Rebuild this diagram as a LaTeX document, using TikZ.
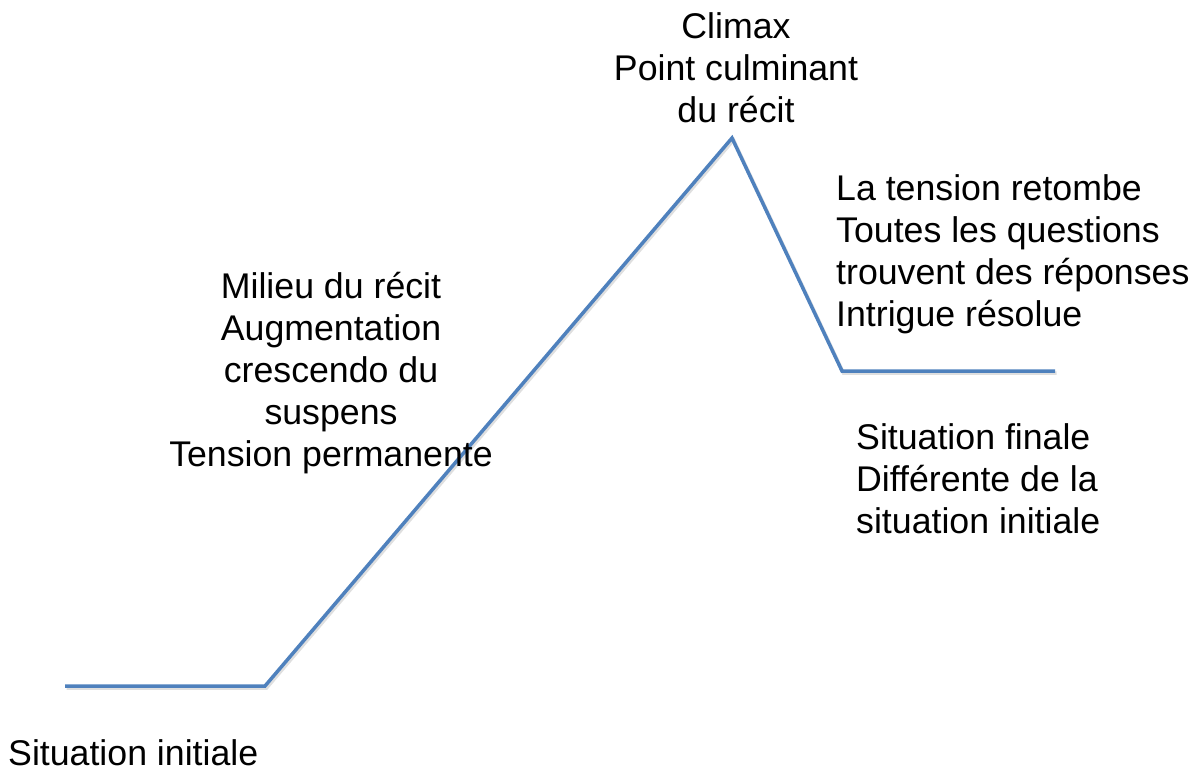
\documentclass[tikz,border=0pt]{standalone}
\usepackage{fontspec}
\setmainfont{Liberation Sans}
\definecolor{linecol}{RGB}{79,129,189}
\begin{document}
\begin{tikzpicture}[x=1pt,y=-1pt,
  lbl/.style={inner sep=0pt,font=\fontsize{35.7}{42}\selectfont},
  arc/.style={draw=linecol,line width=3.5pt,line join=miter},
  shade/.style={draw=black!25,line width=3.5pt,opacity=0.5}]
\useasboundingbox (0,0) rectangle (1196,780);
\coordinate (p0) at (65,686);
\coordinate (p1) at (265,686);
\coordinate (p2) at (732,138);
\coordinate (p3) at (842,371);
\coordinate (p4) at (1055,371);
\begin{scope}[shift={(1.5,2)}]
\draw[shade] (65,686) -- (265,686) -- (732,138) -- (842,371) -- (1055,371);
\end{scope}
\draw[arc] (p0) -- (p1) -- (p2) -- (p3) -- (p4);
\node[lbl,anchor=base,align=center] (climax) at (736,122) {Climax\\Point culminant\\du récit};
\node[lbl,anchor=base,align=center] (milieu) at (331,466) {Milieu du récit\\Augmentation\\crescendo du\\suspens\\Tension permanente};
\node[lbl,anchor=base west,align=left] (tension) at (836,326) {La tension retombe\\Toutes les questions\\trouvent des réponses\\Intrigue résolue};
\node[lbl,anchor=base west,align=left] (finale) at (856,533) {Situation finale\\Différente de la\\situation initiale};
\node[lbl,anchor=base west] (initiale) at (8,765) {Situation initiale};
\end{tikzpicture}
\end{document}
